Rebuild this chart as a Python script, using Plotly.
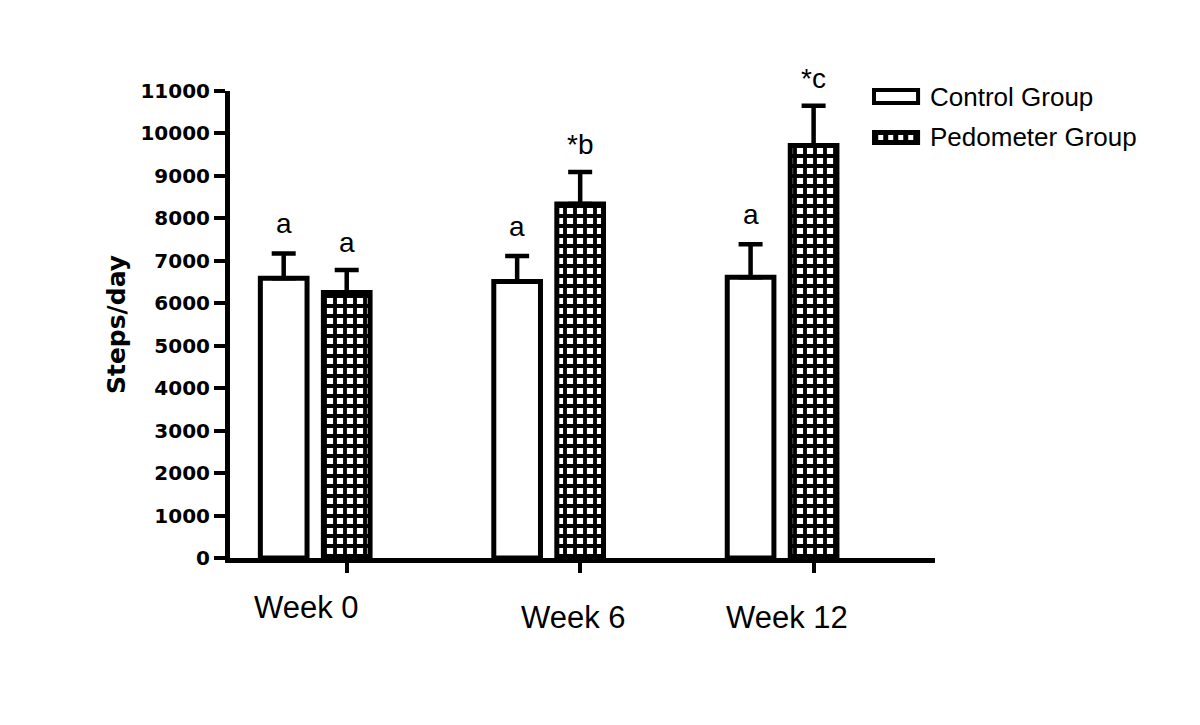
import plotly.graph_objects as go

# ---- data ----
weeks = ["Week 0", "Week 6", "Week 12"]
series_names = ["Control Group", "Pedometer Group"]
control_mean = [6590, 6510, 6615]
control_err = [585, 605, 775]
pedometer_mean = [6255, 8340, 9715]
pedometer_err = [530, 755, 935]
control_sig = ["a", "a", "a"]
pedometer_sig = ["a", "*b", "*c"]
y_tick_values = list(range(0, 11001, 1000))
y_tick_text = [str(v) for v in y_tick_values]

# ---- layout constants ----
FONT = "Arial, Liberation Sans, Helvetica, sans-serif"
BOLD_FONT = "DejaVu Sans, Arial, sans-serif"
BAR_W = 0.2
CTRL_SHIFT = -0.27
label_dx_px = [-40, -7, -27]
label_dy_px = [-49, -59, -59]

fig = go.Figure()

fig.add_trace(go.Bar(
    name=series_names[0],
    x=weeks, y=control_mean,
    offset=CTRL_SHIFT - BAR_W / 2, width=BAR_W,
    marker=dict(color="white", line=dict(color="black", width=5)),
    error_y=dict(type="data", array=control_err, arrayminus=[0] * len(weeks),
                 symmetric=False, color="black", thickness=4.5, width=12),
    showlegend=False,
))
fig.add_trace(go.Bar(
    name=series_names[1],
    x=weeks, y=pedometer_mean,
    offset=-BAR_W / 2, width=BAR_W,
    marker=dict(color="white", line=dict(color="black", width=5),
                pattern=dict(shape="+", fgcolor="black", bgcolor="white",
                             size=10, solidity=0.62, fillmode="replace")),
    error_y=dict(type="data", array=pedometer_err, arrayminus=[0] * len(weeks),
                 symmetric=False, color="black", thickness=4.5, width=12),
    showlegend=False,
))

annotations = []
for i in range(len(weeks)):
    annotations.append(dict(
        x=i + CTRL_SHIFT, y=control_mean[i] + control_err[i], xref="x", yref="y",
        text=control_sig[i], showarrow=False, yanchor="bottom", yshift=12,
        font=dict(family=FONT, size=28, color="black")))
    annotations.append(dict(
        x=i, y=pedometer_mean[i] + pedometer_err[i], xref="x", yref="y",
        text=pedometer_sig[i], showarrow=False, yanchor="bottom", yshift=10,
        font=dict(family=FONT, size=28, color="black")))
    annotations.append(dict(
        x=i, y=0, xref="x", yref="paper",
        text=weeks[i], showarrow=False, xanchor="center", yanchor="middle",
        xshift=label_dx_px[i], yshift=label_dy_px[i],
        font=dict(family=FONT, size=31, color="black")))

# ---- custom legend (box swatches + real text) ----
LEG_X0, LEG_X1 = 0.9135, 0.976
LEG_TEXT_X = 0.99
shapes = [
    dict(type="rect", xref="paper", yref="paper", x0=LEG_X0, x1=LEG_X1,
         y0=0.9743, y1=1.002, fillcolor="white", line=dict(color="black", width=4)),
    dict(type="rect", xref="paper", yref="paper", x0=LEG_X0, x1=LEG_X1,
         y0=0.8887, y1=0.912, fillcolor="black", line=dict(color="black", width=4)),
    dict(type="line", xref="paper", yref="paper", x0=LEG_X0 + 0.006, x1=LEG_X1 - 0.004,
         y0=0.9004, y1=0.9004, line=dict(color="white", width=5, dash="dot")),
]
annotations.append(dict(x=LEG_TEXT_X, y=0.987, xref="paper", yref="paper",
                        text=series_names[0], showarrow=False, xanchor="left", yanchor="middle",
                        font=dict(family=FONT, size=26, color="black")))
annotations.append(dict(x=LEG_TEXT_X, y=0.9015, xref="paper", yref="paper",
                        text=series_names[1], showarrow=False, xanchor="left", yanchor="middle",
                        font=dict(family=FONT, size=26, color="black")))

fig.update_layout(
    width=1192, height=717,
    margin=dict(l=222, r=265, t=83, b=167),
    paper_bgcolor="white", plot_bgcolor="white",
    barmode="overlay",
    showlegend=False,
    annotations=annotations,
    shapes=shapes,
    font=dict(family=FONT, color="black"),
)
fig.update_xaxes(
    type="category", range=[-0.5, 2.52],
    showline=True, linecolor="black", linewidth=5,
    ticks="outside", ticklen=10, tickwidth=4, tickcolor="black",
    showticklabels=False, showgrid=False, zeroline=False,
)
fig.update_yaxes(
    range=[0, 11000], tickmode="array", tickvals=y_tick_values, ticktext=y_tick_text,
    showline=True, linecolor="black", linewidth=5,
    ticks="outside", ticklen=11, tickwidth=4, tickcolor="black",
    tickfont=dict(family=BOLD_FONT, size=20, color="black", weight="bold"),
    showgrid=False, zeroline=False,
    title=dict(text="<b>Steps/day</b>", standoff=9,
               font=dict(family=BOLD_FONT, size=25, color="black")),
)

fig.write_html("out.html")
